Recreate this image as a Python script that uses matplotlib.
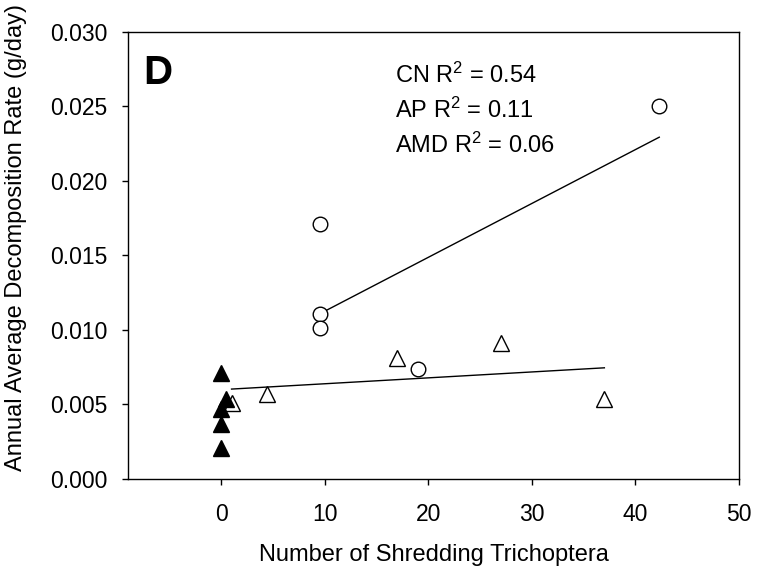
import numpy as np
import matplotlib
matplotlib.use('Agg')
import matplotlib.pyplot as plt
from matplotlib.ticker import FormatStrFormatter

plt.rcParams['font.family'] = ['Liberation Sans', 'DejaVu Sans']
plt.rcParams['mathtext.fontset'] = 'custom'
plt.rcParams['mathtext.rm'] = 'Liberation Sans'
plt.rcParams['mathtext.it'] = 'Liberation Sans'

# CN sites (open circles)
cn_x = [9.5, 9.5, 9.5, 19.0, 42.3]
cn_y = [0.0171, 0.0111, 0.0101, 0.0074, 0.0250]
# AP sites (open triangles)
ap_x = [1.0, 4.4, 17.0, 27.0, 37.0]
ap_y = [0.0051, 0.0057, 0.0081, 0.0091, 0.0054]
# AMD sites (filled triangles)
amd_x = [0.0, 0.5, 0.0, 0.0, 0.0]
amd_y = [0.0071, 0.0054, 0.0047, 0.0037, 0.0021]

r2_labels = ['CN R$^{2}$ = 0.54', 'AP R$^{2}$ = 0.11', 'AMD R$^{2}$ = 0.06']

fig = plt.figure(figsize=(7.61, 5.68), dpi=100)
ax = fig.add_axes([0.1682, 0.1567, 0.8029, 0.7870])

# linear fits for CN and AP
for xs, ys in [(cn_x, cn_y), (ap_x, ap_y)]:
    k, b = np.polyfit(xs, ys, 1)
    xx = np.array([min(xs), max(xs)])
    ax.plot(xx, k * xx + b, color='black', lw=1.0, zorder=2)

ax.plot(cn_x, cn_y, 'o', ms=10.5, mfc='white', mec='black', mew=1.0, zorder=3)
ax.plot(ap_x, ap_y, '^', ms=11.5, mfc='white', mec='black', mew=1.0, zorder=3)
ax.plot(amd_x, amd_y, '^', ms=11.5, mfc='black', mec='black', mew=1.0, zorder=4)

ax.set_xlim(-9, 50)
ax.set_ylim(0, 0.030)
ax.set_xticks([0, 10, 20, 30, 40, 50])
ax.set_yticks(np.arange(0, 0.0301, 0.005))
ax.yaxis.set_major_formatter(FormatStrFormatter('%.3f'))
ax.tick_params(direction='out', length=4.5, width=1.0, labelsize=16.5)
ax.tick_params(axis='x', pad=13)
ax.tick_params(axis='y', pad=10)
for s in ax.spines.values():
    s.set_linewidth(1.0)

ax.set_xlabel('Number of Shredding Trichoptera', fontsize=17, labelpad=13)
ax.set_ylabel('Annual Average Decomposition Rate (g/day)', fontsize=17)
ax.yaxis.set_label_coords(-0.165, 0.541)

ax.text(0.025, 0.95, 'D', transform=ax.transAxes, fontsize=29, fontweight='bold',
        ha='left', va='top')
for i, t in enumerate(r2_labels):
    ax.text(0.437, 0.885 - i * 0.078, t, transform=ax.transAxes, fontsize=17,
            ha='left', va='baseline')

fig.savefig('out.png', dpi=100)
